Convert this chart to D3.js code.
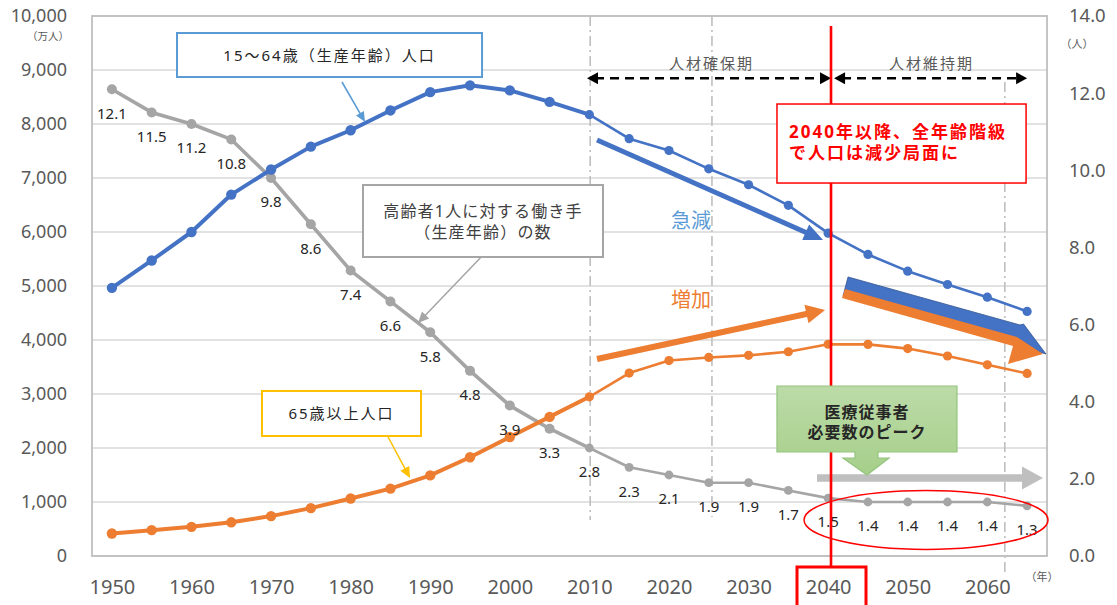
<!DOCTYPE html>
<html><head><meta charset="utf-8">
<script src="https://cdn.jsdelivr.net/npm/d3@7/dist/d3.min.js"></script>
<style>
body{margin:0;background:#fff;}
svg text{font-family:"Noto Sans","Noto Sans CJK JP",sans-serif;}
</style></head><body>
<svg id="chart" width="1117" height="605"></svg>
<script>
// ---------------- data ----------------
const years = [1950,1955,1960,1965,1970,1975,1980,1985,1990,1995,2000,2005,2010,2015,2020,2025,2030,2035,2040,2045,2050,2055,2060,2065];
const workingAge = [4966,5473,6000,6693,7157,7581,7884,8251,8590,8716,8622,8409,8173,7728,7509,7170,6875,6494,5978,5584,5275,5028,4793,4529];
const elderly = [416,479,540,624,739,887,1065,1247,1493,1828,2204,2576,2948,3387,3619,3677,3716,3782,3921,3919,3841,3704,3540,3381];
const workersPerElder = [12.1,11.5,11.2,10.8,9.8,8.6,7.4,6.6,5.8,4.8,3.9,3.3,2.8,2.3,2.1,1.9,1.9,1.7,1.5,1.4,1.4,1.4,1.4,1.3];
const xTickYears = [1950,1960,1970,1980,1990,2000,2010,2020,2030,2040,2050,2060];
const leftTicks = [0,1000,2000,3000,4000,5000,6000,7000,8000,9000,10000];
const rightTicks = [0,2,4,6,8,10,12,14];
const splitYear = 2010;

// ---------------- layout ----------------
const svg = d3.select("#chart");
const L = 92, R = 1047, T = 16, B = 556;
const X = d3.scaleLinear().domain([1947.5, 2067.5]).range([L, R]);
const YL = d3.scaleLinear().domain([0, 10000]).range([B, T]);
const YR = d3.scaleLinear().domain([0, 14]).range([B, T]);
const BLUE = "#4472C4", ORANGE = "#ED7D31", GRAY = "#A5A5A5", RED = "#FF0000";
const font = '"Noto Sans","Noto Sans CJK JP",sans-serif';
const pts = arr => arr.map(([yr, v]) => `${X(yr)},${YL(v)}`).join(" ");

// gradient for the green callout
const defs = svg.append("defs");
const lg = defs.append("linearGradient").attr("id","greenGrad").attr("x1",0).attr("y1",0).attr("x2",0).attr("y2",1);
lg.append("stop").attr("offset","0%").attr("stop-color","#BCDBA8");
lg.append("stop").attr("offset","100%").attr("stop-color","#A6CF8A");

// gridlines
svg.append("g").selectAll("line").data(leftTicks).join("line")
  .attr("x1", L).attr("x2", R).attr("y1", d => YL(d)).attr("y2", d => YL(d))
  .attr("stroke", "#D9D9D9").attr("stroke-width", 1.3);

// plot border
svg.append("rect").attr("x", L).attr("y", T).attr("width", R - L).attr("height", B - T)
  .attr("fill", "none").attr("stroke", "#BFBFBF").attr("stroke-width", 1.8);

// axes
const axL = svg.append("g").attr("transform", `translate(${L},0)`)
  .call(d3.axisLeft(YL).tickValues(leftTicks).tickSize(0).tickPadding(25).tickFormat(d3.format(",")));
const axR = svg.append("g").attr("transform", `translate(${R},0)`)
  .call(d3.axisRight(YR).tickValues(rightTicks).tickSize(0).tickPadding(22).tickFormat(d3.format(".1f")));
const axB = svg.append("g").attr("transform", `translate(0,${B})`)
  .call(d3.axisBottom(X).tickValues(xTickYears).tickSize(0).tickFormat(d3.format("d")));
[axL, axR, axB].forEach(a => { a.select(".domain").remove();
  a.selectAll("text").attr("fill", "#595959").style("font-family", font); });
axL.selectAll("text").style("font-size", "18px");
axR.selectAll("text").style("font-size", "18.5px");
axB.selectAll("text").style("font-size", "20px").attr("y", 38).attr("dy", 0);

// unit labels
svg.append("text").attr("x", 48).attr("y", YL(10000) + 24).attr("text-anchor", "middle")
  .attr("font-size", 10.5).attr("fill", "#595959").text("（万人）");
svg.append("text").attr("x", R + 30).attr("y", YR(14) + 32).attr("text-anchor", "middle")
  .attr("font-size", 11).attr("fill", "#595959").text("（人）");
svg.append("text").attr("x", R - 5).attr("y", B + 25).attr("text-anchor", "middle")
  .attr("font-size", 11).attr("fill", "#595959").text("（年）");

// dash-dot period markers
const periodLines = [
  {year: 2010.1, top: 10000, bottom: 667},
  {year: 2025.4, top: 10000, bottom: 722},
  {year: 2062.2, top: 8778, bottom: -296}
];
svg.append("g").selectAll("line").data(periodLines).join("line")
  .attr("x1", d => X(d.year)).attr("x2", d => X(d.year))
  .attr("y1", d => YL(d.top)).attr("y2", d => YL(d.bottom))
  .attr("stroke", "#BFBFBF").attr("stroke-width", 1.6).attr("stroke-dasharray", "10,4,2,4");

// period labels and dashed double arrows
const arrowY = YL(8846);
function headTri(g, x, y, dir, len, hw, color) {
  g.append("polygon").attr("points", `${x},${y} ${x - dir*len},${y - hw} ${x - dir*len},${y + hw}`).attr("fill", color);
}
const periods = [
  {label: "人材確保期", from: 2009.7, to: 2040.36, mid: 2025.34},
  {label: "人材維持期", from: 2040.74, to: 2065.0, mid: 2052.99}
];
periods.forEach(p => {
  const g = svg.append("g");
  const x1 = X(p.from), x2 = X(p.to);
  g.append("line").attr("x1", x1 + 8).attr("x2", x2 - 8).attr("y1", arrowY).attr("y2", arrowY)
    .attr("stroke", "#000").attr("stroke-width", 2.5).attr("stroke-dasharray", "9,6");
  headTri(g, x1, arrowY, -1, 11, 6, "#000");
  headTri(g, x2, arrowY, 1, 11, 6, "#000");
  g.append("text").attr("x", X(p.mid)).attr("y", YL(9111)).attr("dy", "0.35em").attr("text-anchor", "middle")
    .attr("font-size", 15).attr("letter-spacing", "2px").attr("fill", "#595959").text(p.label);
});

// ---------------- series ----------------
function drawSeries(values, yScale, color, wPre, wPost, rPre, rPost) {
  const p = years.map((y, i) => ({year: y, v: values[i]}));
  const line = d3.line().x(d => X(d.year)).y(d => yScale(d.v));
  const g = svg.append("g");
  g.append("path").attr("d", line(p.filter(d => d.year <= splitYear)))
    .attr("fill", "none").attr("stroke", color).attr("stroke-width", wPre).attr("stroke-linejoin", "round");
  g.append("path").attr("d", line(p.filter(d => d.year >= splitYear)))
    .attr("fill", "none").attr("stroke", color).attr("stroke-width", wPost).attr("stroke-linejoin", "round");
  g.selectAll("circle").data(p).join("circle")
    .attr("cx", d => X(d.year)).attr("cy", d => yScale(d.v))
    .attr("r", d => d.year < splitYear ? rPre : rPost).attr("fill", color);
  return p;
}
const grayPts = drawSeries(workersPerElder, YR, GRAY, 3.6, 2.6, 5, 4.4);
drawSeries(elderly, YL, ORANGE, 4, 2.6, 5.2, 4.6);
drawSeries(workingAge, YL, BLUE, 4, 2.6, 5.2, 4.6);

// gray data labels
svg.append("g").selectAll("text").data(grayPts).join("text")
  .attr("x", d => X(d.year)).attr("y", d => YR(d.v) + 24).attr("dy", "0.35em")
  .attr("text-anchor", "middle").attr("font-size", 15).attr("fill", "#262626")
  .text(d => d3.format(".1f")(d.v));

// ---------------- annotations ----------------
function arrowLine(x1, y1, x2, y2, w, hl, hw, color) {
  const dx = x2 - x1, dy = y2 - y1, len = Math.hypot(dx, dy), ux = dx/len, uy = dy/len, nx = -uy, ny = ux;
  const bx = x2 - ux*hl, by = y2 - uy*hl;
  const g = svg.append("g");
  g.append("line").attr("x1", x1).attr("y1", y1).attr("x2", bx + ux*1).attr("y2", by + uy*1)
    .attr("stroke", color).attr("stroke-width", w);
  g.append("polygon").attr("points", `${x2},${y2} ${bx + nx*hw},${by + ny*hw} ${bx - nx*hw},${by - ny*hw}`).attr("fill", color);
}
function blockArrow(x1, y1, x2, y2, sw, hw, hl) {
  const dx = x2 - x1, dy = y2 - y1, len = Math.hypot(dx, dy), ux = dx/len, uy = dy/len, nx = -uy, ny = ux;
  const bx = x2 - ux*hl, by = y2 - uy*hl;
  return [[x1 + nx*sw/2, y1 + ny*sw/2], [bx + nx*sw/2, by + ny*sw/2], [bx + nx*hw/2, by + ny*hw/2], [x2, y2],
          [bx - nx*hw/2, by - ny*hw/2], [bx - nx*sw/2, by - ny*sw/2], [x1 - nx*sw/2, y1 - ny*sw/2]].map(p => p.join(",")).join(" ");
}
function textLines(x, y0, lines, gap, opts) {
  lines.forEach((t, i) => {
    const el = svg.append("text").attr("x", x).attr("y", y0 + i*gap).attr("dy", "0.35em").text(t);
    Object.entries(opts).forEach(([k, v]) => el.attr(k, v));
  });
}

// trend arrows (急減 / 増加)
arrowLine(X(2010.96), YL(7704), X(2039.36), YL(5852), 5, 19, 8.5, BLUE);
arrowLine(X(2010.96), YL(3648), X(2039.61), YL(4556), 6, 19, 9.5, ORANGE);
svg.append("text").attr("x", X(2022.77)).attr("y", YL(6204)).attr("dy", "0.35em").attr("text-anchor", "middle")
  .attr("font-size", 20).attr("fill", "#5B9BD5").text("急減");
svg.append("text").attr("x", X(2022.77)).attr("y", YL(4741)).attr("dy", "0.35em").attr("text-anchor", "middle")
  .attr("font-size", 20).attr("fill", ORANGE).text("増加");

// combined block arrows (blue underneath, orange on top)
const blueBlock = [[2042.5,5167],[2064.11,4278],[2064.55,4296],[2067.37,3741],[2063.73,3907],[2041.87,4815]];
const orangeBlock = [[2042.12,4944],[2063.73,4056],[2067.0,3741],[2062.6,3556],[2063.23,3889],[2041.74,4778]];
svg.append("polygon").attr("points", pts(blueBlock))
  .attr("fill", BLUE).attr("stroke", "#2F528F").attr("stroke-width", 0.8).attr("stroke-linejoin", "round");
svg.append("polygon").attr("points", pts(orangeBlock)).attr("fill", ORANGE);

// gray horizontal arrow
svg.append("polygon").attr("points", blockArrow(X(2038.6), YL(1444), X(2067.0), YL(1444), 7.5, 23, 21))
  .attr("fill", "#BFBFBF");

// red 2040 line
const redX = X(2040.36);
svg.append("line").attr("x1", redX).attr("x2", redX).attr("y1", YL(9815)).attr("y2", B + 11)
  .attr("stroke", RED).attr("stroke-width", 2.6);
svg.append("rect").attr("x", redX - 34).attr("y", B + 11).attr("width", 69).attr("height", 45)
  .attr("fill", "none").attr("stroke", RED).attr("stroke-width", 3);

// red message box
{
  const x1 = X(2033.57), x2 = X(2064.87), y1 = YL(8370), y2 = YL(6907);
  svg.append("rect").attr("x", x1).attr("y", y1).attr("width", x2 - x1).attr("height", y2 - y1)
    .attr("fill", "#fff").attr("stroke", RED).attr("stroke-width", 1.5);
  textLines(X(2035.08), YL(7852), ["2040年以降、全年齢階級", "で人口は減少局面に"], 21.5,
    {"font-size": 17, "font-weight": "bold", "fill": RED, "letter-spacing": "2px"});
}

// green callout
{
  const x1 = X(2033.57), x2 = X(2056.19), y1 = YL(3148), y2 = YL(1926);
  const s1 = X(2043.37), s2 = X(2046.26), h1 = X(2041.87), h2 = X(2047.65), tip = X(2044.88);
  const yh = YL(1815), yt = YL(1500);
  const path = `M${x1},${y1} L${x2},${y1} L${x2},${y2} L${s2},${y2} L${s2},${yh} L${h2},${yh} L${tip},${yt} L${h1},${yh} L${s1},${yh} L${s1},${y2} L${x1},${y2} Z`;
  svg.append("path").attr("d", path).attr("fill", "url(#greenGrad)").attr("stroke", "#93C47D").attr("stroke-width", 1.2);
  textLines((x1 + x2) / 2, YL(2667), ["医療従事者", "必要数のピーク"], 20,
    {"font-size": 16, "font-weight": "bold", "fill": "#262626", "text-anchor": "middle", "letter-spacing": "1px"});
}

// red ellipse
svg.append("ellipse").attr("cx", X(2052.3)).attr("cy", YL(667)).attr("rx", 122).attr("ry", 29.5)
  .attr("fill", "none").attr("stroke", RED).attr("stroke-width", 1.5);

// callout: 15-64
{
  const x1 = X(1958.18), x2 = X(1996.51), y1 = YL(9685), y2 = YL(8870);
  arrowLine(X(1978.91), YL(8778), X(1981.8), YL(8037), 1.6, 10, 4.5, "#5B9BD5");
  svg.append("rect").attr("x", x1).attr("y", y1).attr("width", x2 - x1).attr("height", y2 - y1)
    .attr("fill", "#fff").attr("stroke", "#5B9BD5").attr("stroke-width", 2);
  textLines((x1 + x2) / 2, YL(9265), ["15～64歳（生産年齢）人口"], 0,
    {"font-size": 15, "fill": "#262626", "text-anchor": "middle", "letter-spacing": "2px"});
}
// callout: workers per elderly
{
  const x1 = X(1981.55), x2 = X(2011.71), y1 = YL(6870), y2 = YL(5537);
  arrowLine(X(1996.4), YL(5537), X(1988.46), YL(4315), 1.5, 11, 5, GRAY);
  svg.append("rect").attr("x", x1).attr("y", y1).attr("width", x2 - x1).attr("height", y2 - y1)
    .attr("fill", "#fff").attr("stroke", GRAY).attr("stroke-width", 2);
  textLines((x1 + x2) / 2, YL(6389), ["高齢者1人に対する働き手", "（生産年齢）の数"], 21,
    {"font-size": 16, "fill": "#404040", "text-anchor": "middle", "letter-spacing": "1.2px"});
}
// callout: 65+
{
  const x1 = X(1968.86), x2 = X(1988.84), y1 = YL(3056), y2 = YL(2222);
  arrowLine(X(1984.57), YL(2241), X(1987.46), YL(1444), 1.5, 11, 5, "#FFC000");
  svg.append("rect").attr("x", x1).attr("y", y1).attr("width", x2 - x1).attr("height", y2 - y1)
    .attr("fill", "#fff").attr("stroke", "#FFC000").attr("stroke-width", 2);
  textLines((x1 + x2) / 2, YL(2630), ["65歳以上人口"], 0,
    {"font-size": 15, "fill": "#262626", "text-anchor": "middle", "letter-spacing": "2px"});
}
</script>
</body></html>
